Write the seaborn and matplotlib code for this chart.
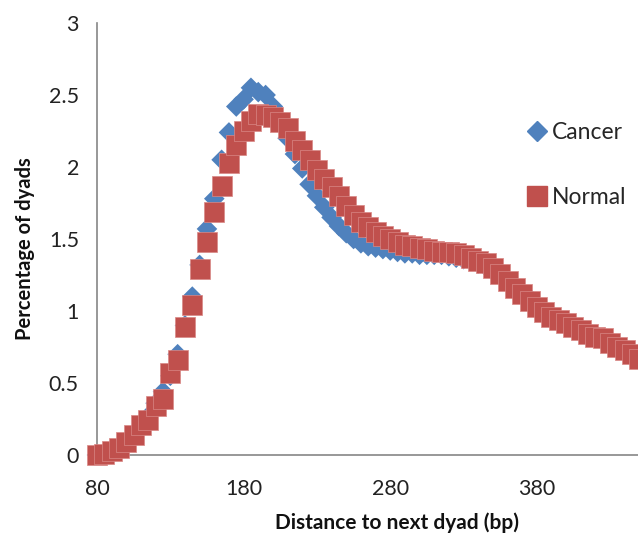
import matplotlib
matplotlib.use("Agg")
import matplotlib.pyplot as plt
import seaborn as sns
import pandas as pd
from matplotlib.lines import Line2D
from matplotlib.ticker import FuncFormatter

distance = list(range(80, 455, 5))

cancer = [0.00, 0.01, 0.02, 0.05, 0.09, 0.14, 0.20, 0.27, 0.36, 0.44,
          0.55, 0.70, 0.90, 1.10, 1.32, 1.57, 1.78, 2.05, 2.24, 2.42,
          2.47, 2.55, 2.52, 2.50, 2.42, 2.32, 2.20, 2.09, 1.99, 1.88,
          1.80, 1.72, 1.65, 1.59, 1.54, 1.50, 1.47, 1.45, 1.44, 1.43,
          1.42, 1.41, 1.40, 1.40, 1.39, 1.39, 1.39, 1.39, 1.38, 1.37,
          1.36, 1.35, 1.33, 1.31, 1.28, 1.25, 1.21, 1.17, 1.13, 1.09,
          1.04, 1.00, 0.97, 0.94, 0.92, 0.89, 0.87, 0.84, 0.82, 0.81,
          0.78, 0.75, 0.73, 0.70, 0.67]

normal = [0.00, 0.01, 0.03, 0.05, 0.09, 0.14, 0.21, 0.24, 0.34, 0.39,
          0.57, 0.66, 0.89, 1.04, 1.29, 1.48, 1.69, 1.87, 2.03, 2.15,
          2.25, 2.32, 2.37, 2.36, 2.35, 2.31, 2.27, 2.18, 2.12, 2.05,
          1.98, 1.92, 1.86, 1.80, 1.73, 1.67, 1.62, 1.58, 1.55, 1.52,
          1.50, 1.48, 1.46, 1.45, 1.44, 1.43, 1.42, 1.41, 1.41, 1.40,
          1.39, 1.37, 1.35, 1.33, 1.30, 1.26, 1.21, 1.16, 1.12, 1.07,
          1.03, 0.99, 0.96, 0.94, 0.92, 0.89, 0.87, 0.84, 0.82, 0.81,
          0.78, 0.75, 0.73, 0.70, 0.67]

series_names = ["Cancer", "Normal"]
x_ticks = [80, 180, 280, 380]
y_ticks = [0, 0.5, 1, 1.5, 2, 2.5, 3]

sns.set_theme(style="white")
plt.rcParams['font.family'] = ['Lato', 'DejaVu Sans']

blue = "#4F81BD"
red = "#C0504D"
axis_gray = "#868686"

fig = plt.figure(figsize=(6.38, 5.37), dpi=100)
ax = fig.add_axes([97/638, (537-455)/537, (638-97)/638, (455-23)/537])

df_c = pd.DataFrame({"x": distance, "y": cancer})
df_n = pd.DataFrame({"x": distance, "y": normal})

sns.scatterplot(data=df_c, x="x", y="y", marker="D", s=110, color=blue,
                edgecolor="none", linewidth=0, ax=ax, clip_on=False, zorder=3)
sns.scatterplot(data=df_n, x="x", y="y", marker="s", s=190, color=red,
                edgecolor="#D98886", linewidth=0.5, ax=ax, clip_on=False, zorder=4)

ax.set_xlim(80, 449)
ax.set_ylim(0, 3)
ax.set_xticks(x_ticks)
ax.set_yticks(y_ticks)
ax.yaxis.set_major_formatter(FuncFormatter(lambda v, p: f"{v:g}"))

for side in ["top", "right"]:
    ax.spines[side].set_visible(False)
for side in ["left", "bottom"]:
    ax.spines[side].set_color(axis_gray)
    ax.spines[side].set_linewidth(1.2)

ax.tick_params(axis="both", which="major", direction="out", length=5,
               width=1.2, color=axis_gray, labelsize=15.5, labelcolor="#222222")
ax.tick_params(axis="x", pad=12)
ax.tick_params(axis="y", pad=8)

ax.set_xlabel("Distance to next dyad (bp)", fontsize=15, fontweight="bold",
              color="#111111", va="center")
ax.set_ylabel("Percentage of dyads", fontsize=14.5, fontweight="bold",
              color="#111111", va="center")
ax.xaxis.set_label_coords((397 - 97) / 541, -(523 - 455) / 432)
ax.yaxis.set_label_coords(-(97 - 25) / 541, (455 - 249) / 432)

handles = [Line2D([], [], marker="D", color=blue, linestyle="none", markersize=10),
           Line2D([], [], marker="s", color=red, linestyle="none", markersize=14)]
leg = ax.legend(handles, series_names, loc="upper left",
                bbox_to_anchor=((514 - 97) / 541, (455 - 113) / 432),
                frameon=False, fontsize=16.5, labelspacing=1.9,
                handletextpad=0.05, handlelength=1.2, borderaxespad=0)

fig.savefig("out.png", dpi=100)
